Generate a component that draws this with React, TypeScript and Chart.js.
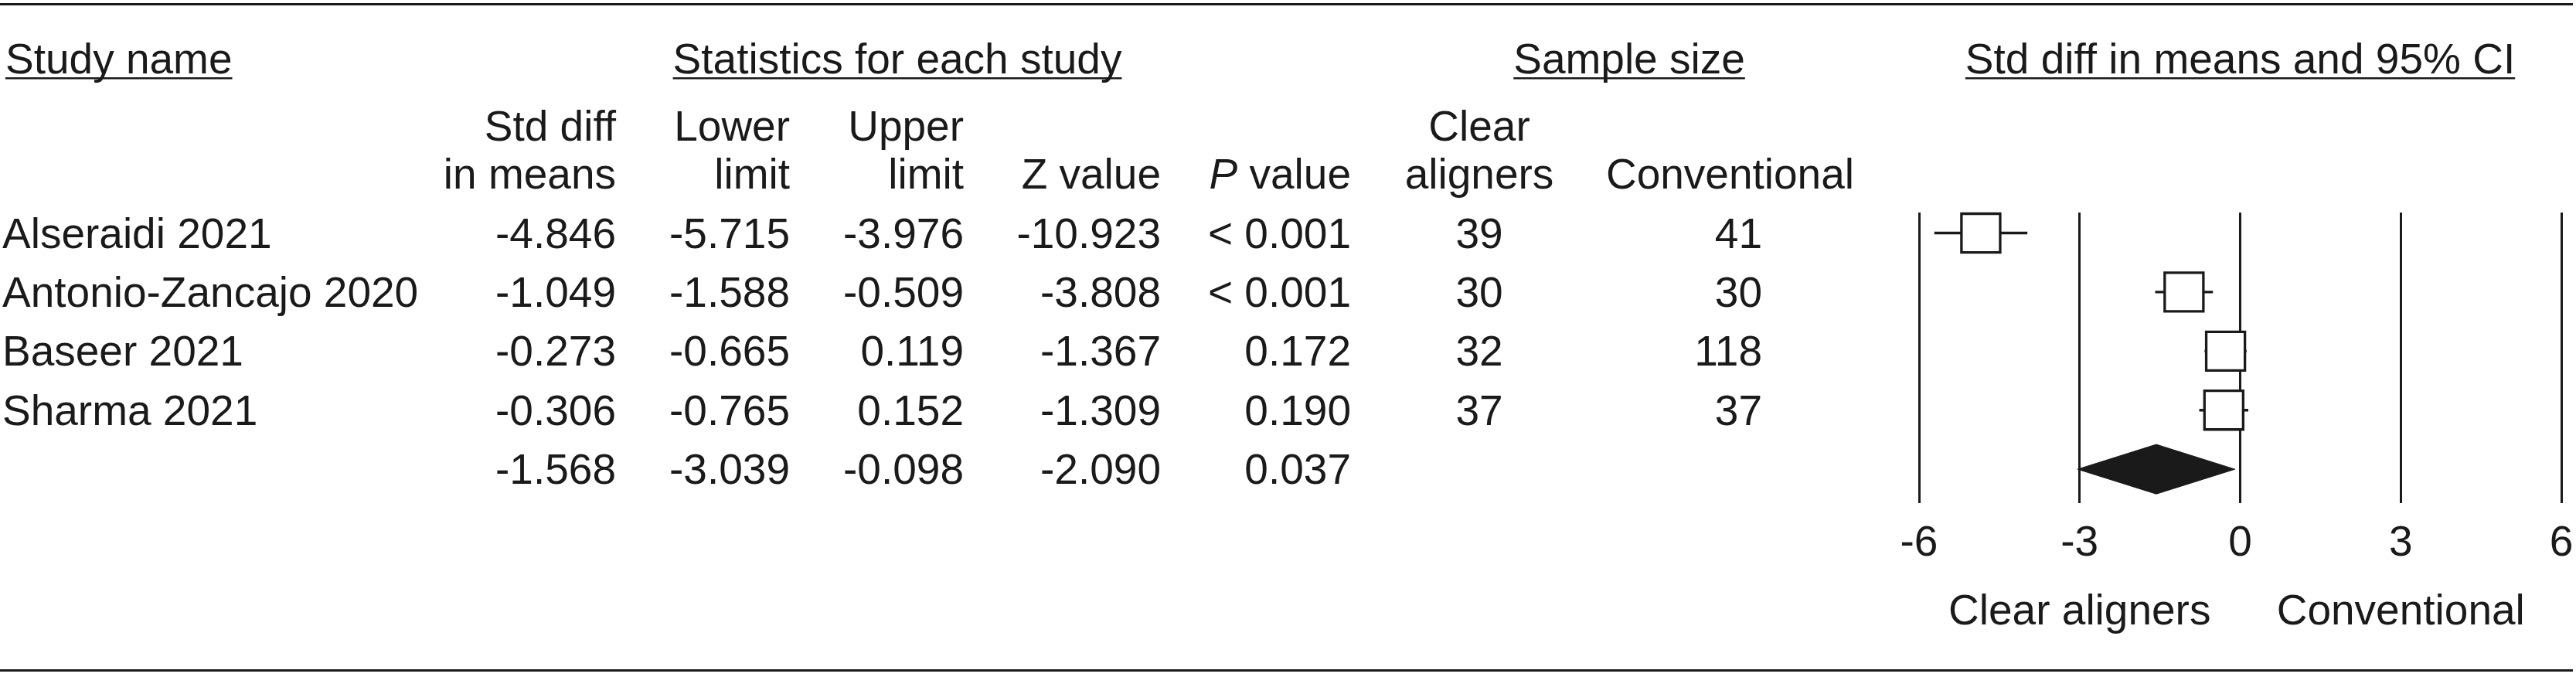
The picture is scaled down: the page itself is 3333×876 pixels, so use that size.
import React, { useEffect, useRef } from "react";
import { Chart, registerables } from "chart.js";

Chart.register(...registerables);

// ---------- data ----------
const studyNames = ["Alseraidi 2021", "Antonio-Zancajo 2020", "Baseer 2021", "Sharma 2021"];
const stdDiff = [-4.846, -1.049, -0.273, -0.306];
const lowerLimit = [-5.715, -1.588, -0.665, -0.765];
const upperLimit = [-3.976, -0.509, 0.119, 0.152];
const zValue = [-10.923, -3.808, -1.367, -1.309];
const pValue = ["< 0.001", "< 0.001", "0.172", "0.190"];
const nClear = [39, 30, 32, 37];
const nConventional = [41, 30, 118, 37];

const pooledStd = -1.568;
const pooledLower = -3.039;
const pooledUpper = -0.098;
const pooledZ = -2.09;
const pooledP = "0.037";

const xTicks = [-6, -3, 0, 3, 6];
const leftSideLabel = "Clear aligners";
const rightSideLabel = "Conventional";

// ---------- style ----------
const FONT = "'Liberation Sans', Arial, Helvetica, sans-serif";
const INK = "#1a1a1a";
const FS = 55;

export default function App() {
  const ref = useRef<HTMLCanvasElement>(null);

  useEffect(() => {
    document.body.style.margin = "0";
    const canvas = ref.current!;
    const nRows = studyNames.length; // pooled row index
    const diamondHalf = 0.42;

    const tablePlugin = {
      id: "forestTable",
      afterDraw(chart: any) {
        const ctx: CanvasRenderingContext2D = chart.ctx;
        const ys = chart.scales.y;
        const xs = chart.scales.x;
        ctx.save();
        ctx.fillStyle = INK;
        // horizontal rules
        ctx.fillRect(0, 4, 3329, 3);
        ctx.fillRect(0, 866, 3329, 3);

        const font = `${FS}px ${FONT}`;
        const italic = `italic ${FS}px ${FONT}`;
        ctx.font = font;
        ctx.textBaseline = "alphabetic";
        const text = (s: string, x: number, y: number, align: CanvasTextAlign) => {
          ctx.textAlign = align;
          ctx.fillText(s, x, y);
        };
        const heading = (s: string, x: number, y: number, align: CanvasTextAlign) => {
          const w = ctx.measureText(s).width;
          const left = align === "center" ? x - w / 2 : align === "right" ? x - w : x;
          text(s, x, y, align);
          ctx.fillRect(left, 100, w, 2.5);
        };

        // group headings
        const h1 = 95;
        heading("Study name", 7, h1, "left");
        heading("Statistics for each study", 1161, h1, "center");
        heading("Sample size", 2108, h1, "center");
        heading("Std diff in means and 95% CI", xs.getPixelForValue(0), h1, "center");

        // column headings
        const h2 = 182;
        const h3 = 244;
        const cStd = 797, cLow = 1022, cUp = 1247, cZ = 1502, cP = 1748, cN1 = 1914, cN2 = 2280, cConvHead = 2399;
        text("Std diff", cStd, h2, "right");
        text("in means", cStd, h3, "right");
        text("Lower", cLow, h2, "right");
        text("limit", cLow, h3, "right");
        text("Upper", cUp, h2, "right");
        text("limit", cUp, h3, "right");
        text("Z value", cZ, h3, "right");
        const vw = ctx.measureText(" value").width;
        text(" value", cP, h3, "right");
        ctx.font = italic;
        text("P", cP - vw, h3, "right");
        ctx.font = font;
        text("Clear", cN1, h2, "center");
        text("aligners", cN1, h3, "center");
        text("Conventional", cConvHead, h3, "right");

        // study rows
        const base = (i: number) => ys.getPixelForValue(i) + 19;
        studyNames.forEach((name, i) => {
          const b = base(i);
          text(name, 3, b, "left");
          text(stdDiff[i].toFixed(3), cStd, b, "right");
          text(lowerLimit[i].toFixed(3), cLow, b, "right");
          text(upperLimit[i].toFixed(3), cUp, b, "right");
          text(zValue[i].toFixed(3), cZ, b, "right");
          text(pValue[i], cP, b, "right");
          text(String(nClear[i]), cN1, b, "center");
          text(String(nConventional[i]), cN2, b, "right");
        });
        // pooled row
        const pb = base(nRows);
        text(pooledStd.toFixed(3), cStd, pb, "right");
        text(pooledLower.toFixed(3), cLow, pb, "right");
        text(pooledUpper.toFixed(3), cUp, pb, "right");
        text(pooledZ.toFixed(3), cZ, pb, "right");
        text(pooledP, cP, pb, "right");

        // favours labels
        text(leftSideLabel, xs.getPixelForValue(-3), 808, "center");
        text(rightSideLabel, xs.getPixelForValue(3), 808, "center");
        ctx.restore();
      },
    };

    const datasets: any[] = [
      {
        label: "Std diff",
        data: stdDiff.map((v, i) => ({ x: v, y: i })),
        showLine: false,
        pointStyle: "rect",
        pointRadius: 35.4,
        pointHoverRadius: 35.4,
        pointBackgroundColor: "#ffffff",
        pointBorderColor: INK,
        pointBorderWidth: 3.3,
        clip: false,
        order: 0,
      },
      ...lowerLimit.map((lo, i) => ({
        label: `CI ${studyNames[i]}`,
        data: [
          { x: lo, y: i },
          { x: upperLimit[i], y: i },
        ],
        showLine: true,
        borderColor: INK,
        borderWidth: 3.3,
        pointRadius: 0,
        pointHoverRadius: 0,
        order: 1,
      })),
      {
        label: "Pooled",
        data: [
          { x: pooledLower, y: nRows },
          { x: pooledStd, y: nRows - diamondHalf },
          { x: pooledUpper, y: nRows },
          { x: pooledStd, y: nRows + diamondHalf },
          { x: pooledLower, y: nRows },
        ],
        showLine: true,
        fill: "shape",
        backgroundColor: INK,
        borderColor: INK,
        borderWidth: 1,
        pointRadius: 0,
        pointHoverRadius: 0,
        clip: false,
        order: 2,
      },
    ];

    const chart = new Chart(canvas, {
      type: "scatter",
      data: { datasets },
      options: {
        responsive: false,
        animation: false,
        devicePixelRatio: 1,
        events: [],
        layout: { autoPadding: false, padding: { left: 2483, right: 19, top: 275, bottom: 139 } },
        plugins: { legend: { display: false }, tooltip: { enabled: false } },
        scales: {
          x: {
            type: "linear",
            position: "bottom",
            min: -6,
            max: 6,
            afterBuildTicks: (s: any) => {
              s.ticks = xTicks.map((v) => ({ value: v }));
            },
            afterFit: (s: any) => {
              s.paddingLeft = 0;
              s.paddingRight = 0;
              s.paddingTop = 0;
              s.paddingBottom = 0;
              s.height = 86;
            },
            ticks: {
              font: { size: FS, family: FONT },
              color: INK,
              padding: 20,
              maxRotation: 0,
              autoSkip: false,
            },
            grid: { color: INK, lineWidth: 3, drawTicks: false },
            border: { display: false },
          },
          y: {
            type: "linear",
            min: -0.347,
            max: 4.574,
            reverse: true,
            display: false,
          },
        },
      } as any,
      plugins: [tablePlugin],
    });
    return () => chart.destroy();
  }, []);

  return (
    <div style={{ width: 3333, height: 876, background: "#fff" }}>
      <canvas ref={ref} width={3333} height={876} style={{ display: "block" }} />
    </div>
  );
}
